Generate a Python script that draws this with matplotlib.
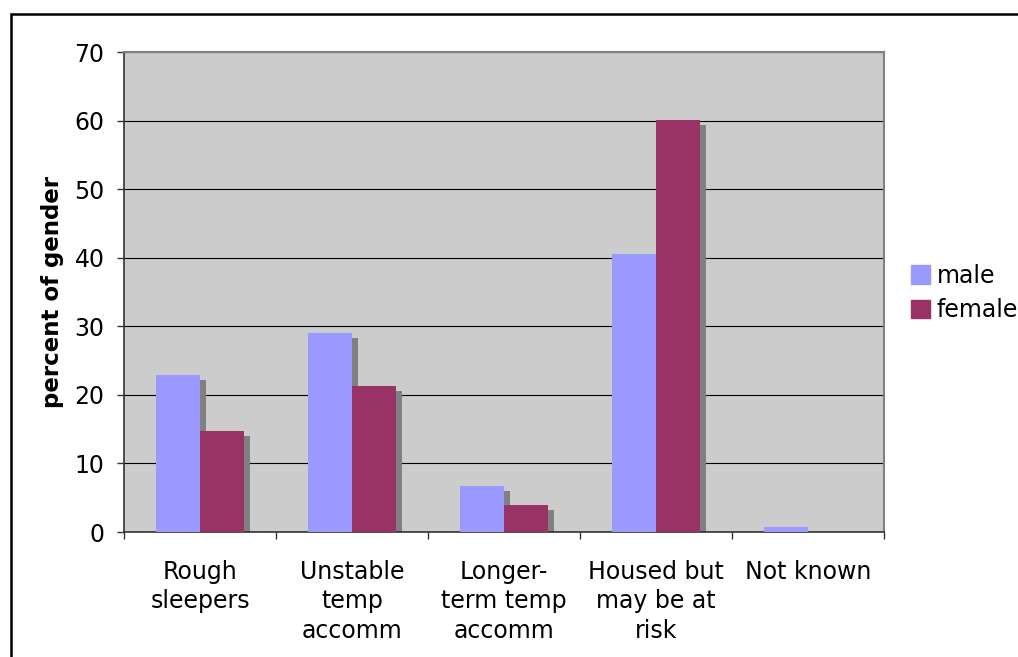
import matplotlib
matplotlib.use("Agg")
import matplotlib.pyplot as plt
import matplotlib.patches as mpatches
import numpy as np

categories = ["Rough\nsleepers", "Unstable\ntemp\naccomm", "Longer-\nterm temp\naccomm",
              "Housed but\nmay be at\nrisk", "Not known"]
male = [22.9, 29.0, 6.7, 40.5, 0.7]
female = [14.7, 21.3, 3.9, 60.1, 0.0]
series_names = ["male", "female"]

MALE_COL = "#9999FF"
FEMALE_COL = "#993366"
SHADOW_COL = "#808080"

W, H = 1018, 657
fig = plt.figure(figsize=(W / 100, H / 100), dpi=100)
fig.patch.set_facecolor("white")

# plot area in pixel terms
left, right, top, bottom = 124, 884, 52, 532
ax = fig.add_axes([left / W, 1 - bottom / H, (right - left) / W, (bottom - top) / H])
ax.set_facecolor("#CCCCCC")

x = np.arange(len(categories))
bw = 0.29
# shadow offsets (about 6px right, 5px down)
dx = 6 / ((right - left) / len(categories))
dy = 5 / ((bottom - top) / 70.0)

for vals, off in ((male, -bw / 2), (female, bw / 2)):
    sh = [max(v - dy, 0) for v in vals]
    ax.bar(x + off + dx, sh, bw, color=SHADOW_COL, zorder=2, linewidth=0)

ax.bar(x - bw / 2, male, bw, color=MALE_COL, zorder=3, linewidth=0, label=series_names[0])
ax.bar(x + bw / 2, female, bw, color=FEMALE_COL, zorder=3, linewidth=0, label=series_names[1])

ax.set_xlim(-0.5, len(categories) - 0.5)
ax.set_ylim(0, 70)
ax.set_yticks(range(0, 71, 10))
ax.yaxis.grid(True, color="black", linewidth=0.8, zorder=1)
ax.set_axisbelow(True)

ax.set_xticks(x)
ax.set_xticklabels(categories, fontsize=17, linespacing=1.3)
ax.set_xticks(np.arange(-0.5, len(categories)), minor=True)
ax.tick_params(axis="x", which="major", length=0, pad=20)
ax.tick_params(axis="x", which="minor", length=5, width=1, color="#333333")
ax.tick_params(axis="y", length=5, width=1, color="#333333", pad=9, labelsize=17)

for s in ("left", "bottom"):
    ax.spines[s].set_color("#333333")
    ax.spines[s].set_linewidth(1.2)
for s in ("top", "right"):
    ax.spines[s].set_color("#808080")
    ax.spines[s].set_linewidth(1.5)

ax.set_ylabel("percent of gender", fontsize=16.5, fontweight="bold")
ax.yaxis.set_label_coords((52 - left) / (right - left), 0.5)
ax.yaxis.label.set_va("center")

handles = [mpatches.Patch(color=MALE_COL, label=series_names[0]),
           mpatches.Patch(color=FEMALE_COL, label=series_names[1])]
fig.legend(handles=handles, loc="center left", bbox_to_anchor=(911 / W, 1 - 293 / H),
           frameon=False, fontsize=17, handlelength=0.8, handleheight=0.8,
           handletextpad=0.3, labelspacing=0.45, borderpad=0, borderaxespad=0)

# outer chart border, runs off the right and bottom edges
fig.add_artist(mpatches.Rectangle((11 / W, -0.1), 1.2, 1 - 14 / H + 0.1,
                                  transform=fig.transFigure, fill=False,
                                  edgecolor="black", linewidth=1.8))

fig.savefig("out.png", dpi=100)
